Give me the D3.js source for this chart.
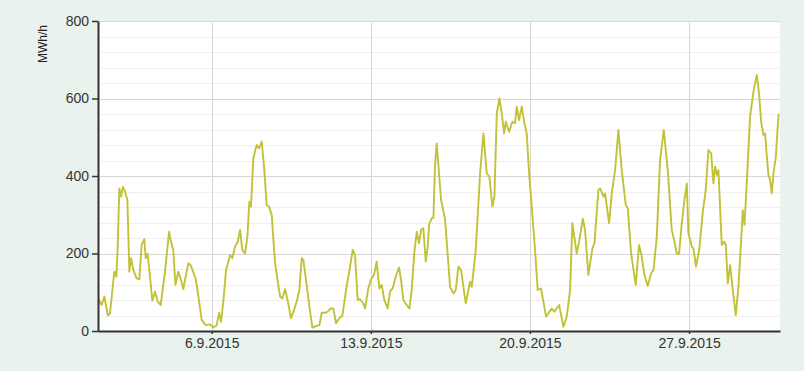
<!DOCTYPE html>
<html>
<head>
<meta charset="utf-8">
<script src="https://d3js.org/d3.v7.min.js"></script>
<style>
    body { margin: 0; background: #e9f2ed; }
    svg { display: block; font-family: "Liberation Sans", Arial, sans-serif; }
</style>
</head>
<body>
<svg id="drawing_region"></svg>
<script>
// hourly production, September 2015 (hours from 1.9.2015 00:00)
const startDate = new Date(2015, 8, 1);
const endDate = new Date(2015, 9, 1);

const hours = [
    0, 1, 3.9, 6.7, 10.4, 12.7, 17.2, 19.4, 20.8, 22.5, 24.3, 26.4, 28.5, 31, 33.1, 34.9, 37.3, 40.8, 43.6, 46.1,
    48.9, 50.3, 52.4, 54.9, 57.4, 60.2, 63, 66.2, 70.7, 75, 77.1, 79.5, 81.7, 84.8, 87.6, 90.1, 92.5, 95.4, 97.9, 100.3,
    103.1, 106, 109.5, 113.7, 118.3, 121.8, 125.3, 127.8, 129.9, 132.3, 135.2, 139.4, 141.9, 144.7, 147.5, 150, 152.4, 155.2, 157.7, 159.8,
    161.5, 164, 167.5, 170, 172.8, 175.6, 178.1, 180.6, 183.4, 186.9, 192.2, 194.6, 197.5, 200.9, 203.7, 206.3, 209.8, 212.6, 215.1, 216.8,
    220.3, 223.2, 226.3, 230.9, 233.7, 236.2, 239.7, 242.5, 245.7, 248.5, 251.3, 254.5, 258, 261.9, 266.1, 268.9, 271.3, 274.2, 276.6, 280.1,
    281.9, 285.4, 288.2, 291.4, 294.2, 297, 299.5, 302.3, 305.8, 308.3, 311.1, 314.3, 317.8, 319.9, 322.4, 325.9, 328.7, 331.2, 334, 336.5,
    338.9, 341.1, 343.5, 346, 348.1, 349.5, 352.3, 354.1, 355.8, 357.6, 362.2, 366.4, 371.7, 375.2, 377.7, 380.5, 383.3, 388.2, 392.8, 394.6,
    398.8, 403.4, 406.9, 410.4, 413.2, 416.4, 418.5, 421, 423.8, 426.2, 428.7, 430.5, 434, 437.5, 440.3, 442.1, 444.5, 447.4, 450.2, 452.6,
    455.1, 457.9, 461.4, 464.2, 467.8, 473, 479, 481.8, 486.8, 491.4, 494.9, 498.4, 500.8, 505.4, 507.9, 511.8, 514.2, 517.7, 522, 524.1,
    528.3, 530.1, 533.6, 535.3, 539.6, 542.4, 545.9, 549.4, 552.9, 557.2, 559.3, 562.8, 567.7, 571.2, 573.4, 576.9, 580.4, 583.9, 586.4, 589.9,
    593.4, 597.3, 601.5, 605.7, 608.6, 611, 613.5, 616.3, 619.1, 621.6, 623.3, 626.9, 628.6, 631.4, 634.9, 638.5, 641.6, 644.4, 647.3, 649.7,
    651.5, 653.3, 655, 658.5, 661, 662.8, 664.9, 667.3, 669.8, 673.3, 676.1, 679, 680.7, 682.5, 684.9, 688.4, 692, 695.5, 697.9, 700.1,
    702.5, 704.3, 706.1, 707.8, 709.6, 711.3, 713.1, 715.6, 718.4, 719
];

const mwh = [
    75, 80, 67, 89, 40, 46, 153, 140, 218, 368, 347, 372, 360, 338, 153, 188, 157, 136, 133, 222,
    237, 188, 200, 140, 78, 102, 76, 67, 153, 256, 230, 209, 119, 153, 132, 108, 140, 175, 170, 153,
    136, 89, 28, 15, 17, 9, 15, 47, 24, 76, 157, 196, 188, 218, 230, 261, 209, 200, 243, 334,
    321, 446, 480, 471, 489, 415, 325, 321, 299, 175, 89, 84, 108, 71, 33, 50, 76, 106, 188, 183,
    119, 63, 9, 13, 15, 47, 47, 50, 58, 58, 20, 33, 39, 106, 166, 209, 196, 80, 82, 71,
    58, 110, 133, 145, 179, 110, 119, 80, 58, 102, 110, 140, 164, 132, 80, 67, 58, 106, 205, 256,
    226, 261, 265, 179, 218, 274, 291, 292, 428, 484, 338, 288, 114, 97, 106, 166, 157, 71, 127, 114,
    209, 407, 510, 407, 398, 321, 347, 562, 600, 562, 510, 540, 514, 540, 536, 579, 544, 579, 536, 510,
    407, 321, 209, 106, 110, 37, 58, 50, 67, 11, 37, 106, 278, 200, 230, 290, 260, 145, 214, 226,
    364, 368, 347, 355, 278, 355, 415, 519, 415, 325, 317, 200, 119, 222, 200, 145, 116, 149, 157, 243,
    441, 519, 415, 261, 231, 200, 200, 278, 338, 381, 252, 218, 213, 166, 213, 308, 364, 467, 459, 381,
    424, 403, 415, 222, 231, 222, 123, 170, 114, 41, 114, 235, 312, 274, 381, 553, 618, 661, 613, 540,
    506, 510, 450, 403, 390, 355, 407, 450, 557, 560
];

const yTicks = [0, 200, 400, 600, 800];
const yMinorTicks = d3.range(0, 801, 40);
const xTickDates = [new Date(2015, 8, 6), new Date(2015, 8, 13), new Date(2015, 8, 20), new Date(2015, 8, 27)];
const yLabel = "MWh/h";

class LineChart {

    constructor( config, data ) {
        this.config = config;
        this.data = data;
        this.init();
    }

    init() {
        let self = this;

        self.svg = d3.select( self.config.parent )
            .attr('width', self.config.width)
            .attr('height', self.config.height);

        self.inner_width = self.config.width - self.config.margin.left - self.config.margin.right;
        self.inner_height = self.config.height - self.config.margin.top - self.config.margin.bottom;

        self.chart = self.svg.append('g')
            .attr('transform', `translate(${self.config.margin.left}, ${self.config.margin.top})`);

        self.xscale = d3.scaleTime()
            .domain( [startDate, endDate] )
            .range( [0, self.inner_width] );

        self.yscale = d3.scaleLinear()
            .domain( [0, 800] )
            .range( [self.inner_height, 0] );
    }

    render() {
        let self = this;

        self.chart.append('rect')
            .attr('width', self.inner_width)
            .attr('height', self.inner_height)
            .attr('fill', '#ffffff');

        // minor + major horizontal grid
        self.chart.append('g')
            .selectAll('line')
            .data(yMinorTicks)
            .join('line')
            .attr('x1', 0)
            .attr('x2', self.inner_width)
            .attr('y1', d => Math.round(self.yscale(d)) + 0.5)
            .attr('y2', d => Math.round(self.yscale(d)) + 0.5)
            .attr('stroke', d => d % 200 == 0 ? '#d6d6d6' : '#efefef')
            .attr('stroke-width', 1);

        // vertical grid at week ticks
        self.chart.append('g')
            .selectAll('line')
            .data(xTickDates)
            .join('line')
            .attr('x1', d => Math.round(self.xscale(d)) + 0.5)
            .attr('x2', d => Math.round(self.xscale(d)) + 0.5)
            .attr('y1', 0)
            .attr('y2', self.inner_height)
            .attr('stroke', '#d6d6d6');

        const line = d3.line()
            .x( d => self.xscale(d.date) )
            .y( d => self.yscale(d.value) );

        self.chart.append('path')
            .datum(self.data)
            .attr('d', line)
            .attr('fill', 'none')
            .attr('stroke', '#c2c238')
            .attr('stroke-width', 1.9)
            .attr('stroke-linejoin', 'round');

        const xaxis = d3.axisBottom( self.xscale )
            .tickValues(xTickDates)
            .tickFormat(d3.timeFormat('%-d.%-m.%Y'))
            .tickSize(3)
            .tickSizeOuter(0)
            .tickPadding(4);

        const yaxis = d3.axisLeft( self.yscale )
            .tickValues(yTicks)
            .tickSize(6)
            .tickSizeOuter(0)
            .tickPadding(3);

        const xg = self.chart.append('g')
            .attr('transform', `translate(0, ${self.inner_height})`)
            .call(xaxis);

        const yg = self.chart.append('g')
            .call(yaxis);

        [xg, yg].forEach( g => {
            g.selectAll('.domain').attr('stroke', '#333').attr('stroke-width', 2);
            g.selectAll('.tick line').attr('stroke', '#333').attr('stroke-width', 1.5);
            g.selectAll('.tick text')
                .attr('fill', '#333')
                .attr('font-size', '14px')
                .attr('font-family', '"Liberation Sans", Arial, sans-serif');
        });

        self.svg.append('text')
            .attr('transform', `translate(47, 44) rotate(-90)`)
            .attr('text-anchor', 'middle')
            .attr('fill', '#222')
            .attr('font-size', '12px')
            .text(yLabel);
    }
}

const data = hours.map( (h, i) => ({ date: new Date(startDate.getTime() + h * 3600000), value: mwh[i] }) );

const config = {
    parent: '#drawing_region',
    width: 804,
    height: 371,
    margin: {top: 21, right: 24, bottom: 40, left: 98}
};

const line_chart = new LineChart( config, data );
line_chart.render();
</script>
</body>
</html>
